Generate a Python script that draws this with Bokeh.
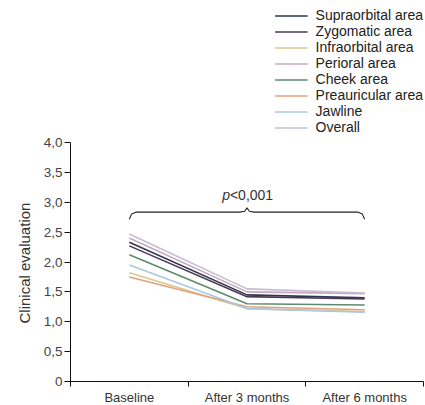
from bokeh.plotting import figure
from bokeh.models import Range1d, FixedTicker, Legend, LegendItem, Label, Title
from bokeh.embed import file_html
from bokeh.resources import INLINE

categories = ["Baseline", "After 3 months", "After 6 months"]
series_names = ["Supraorbital area", "Zygomatic area", "Infraorbital area", "Perioral area",
                "Cheek area", "Preauricular area", "Jawline", "Overall"]
supraorbital = [2.33, 1.45, 1.40]
zygomatic = [2.27, 1.42, 1.38]
infraorbital = [1.82, 1.22, 1.17]
perioral = [2.40, 1.50, 1.47]
cheek = [2.12, 1.30, 1.28]
preauricular = [1.75, 1.25, 1.20]
jawline = [1.95, 1.22, 1.16]
overall = [2.47, 1.55, 1.48]
series_values = [supraorbital, zygomatic, infraorbital, perioral, cheek, preauricular, jawline, overall]
colors = ["#2f3650", "#4a3a58", "#d8c890", "#c8a8bc", "#5e8a6e", "#e4a07c", "#a8c8e0", "#c4bcd6"]
y_ticks = [0, 0.5, 1, 1.5, 2, 2.5, 3, 3.5, 4]
y_tick_labels = ["0", "0,5", "1,0", "1,5", "2,0", "2,5", "3,0", "3,5", "4,0"]
y_title = "Clinical evaluation"
p_label = "<0,001"

FONT = "Liberation Sans"
TXT = "#333333"

PX_PER_UNIT = 59.75
FRAME_H = 374
p = figure(frame_width=353, frame_height=FRAME_H, output_backend="svg", toolbar_location=None,
           x_range=Range1d(0, 3), y_range=Range1d(0, FRAME_H / PX_PER_UNIT),
           min_border_left=70, min_border_right=2, min_border_top=7, min_border_bottom=20)
p.outline_line_color = None
p.xgrid.visible = False
p.ygrid.visible = False
p.background_fill_color = "white"

xpos = [i + 0.5 for i in range(len(categories))]

items = []
for name, vals, col in zip(series_names, series_values, colors):
    r = p.line(xpos, vals, line_color=col, line_width=1.6)
    items.append(LegendItem(label=name, renderers=[r]))

# brace
lvl = 2.835
xl, xm, xr = xpos[0], (xpos[0] + xpos[-1]) / 2, xpos[-1]
bx = [xl, xl + 0.02, xl + 0.06, xm - 0.06, xm - 0.02, xm, xm + 0.02, xm + 0.06, xr - 0.06, xr - 0.02, xr]
by = [lvl - 0.12, lvl - 0.03, lvl, lvl, lvl + 0.015, lvl + 0.07, lvl + 0.015, lvl, lvl, lvl - 0.03, lvl - 0.12]
p.line(bx, by, line_color="#222222", line_width=1.1)

p.add_layout(Label(x=xm - 0.145, y=3.12, text="p", text_font=FONT, text_font_style="italic",
                   text_font_size="14px", text_align="right", text_baseline="alphabetic", text_color=TXT))
p.add_layout(Label(x=xm - 0.145, y=3.12, text=p_label, text_font=FONT,
                   text_font_size="14px", text_align="left", text_baseline="alphabetic", text_color=TXT))

# axes
xa = p.xaxis[0]
xa.ticker = FixedTicker(ticks=xpos, minor_ticks=[0, 1, 2, 3])
xa.major_label_overrides = {x: c for x, c in zip(xpos, categories)}
xa.major_tick_out = 0
xa.major_tick_in = 0
xa.minor_tick_out = 5
xa.minor_tick_in = 0
xa.minor_tick_line_color = "#111111"
xa.axis_line_color = "#111111"
xa.major_label_text_font = FONT
xa.major_label_text_font_size = "13px"
xa.major_label_text_color = TXT
xa.major_label_standoff = 3

ya = p.yaxis[0]
ya.bounds = (0, 4)
ya.ticker = FixedTicker(ticks=y_ticks)
ya.major_label_overrides = {t: l for t, l in zip(y_ticks, y_tick_labels)}
ya.major_tick_out = 6
ya.major_tick_in = 0
ya.minor_tick_line_color = None
ya.axis_line_color = "#111111"
ya.major_tick_line_color = "#111111"
ya.major_label_text_font = FONT
ya.major_label_text_font_size = "13.5px"
ya.major_label_text_color = "#444444"
ya.major_label_standoff = 2

# y-axis title placed as a side title, starting a little above the x axis
p.add_layout(Title(text=y_title, align="left", offset=58, standoff=16,
                   text_font=FONT, text_font_size="15px", text_font_style="normal",
                   text_color=TXT), "left")

legend = Legend(items=items, location="top_right", label_text_font=FONT, label_text_font_size="14px",
                label_text_color="#222222", glyph_width=33, glyph_height=15, label_height=15,
                spacing=0, padding=0, margin=0, label_standoff=8, border_line_color=None,
                background_fill_alpha=0)
p.add_layout(legend, "center")

open("out.html", "w").write(file_html(p, INLINE))
